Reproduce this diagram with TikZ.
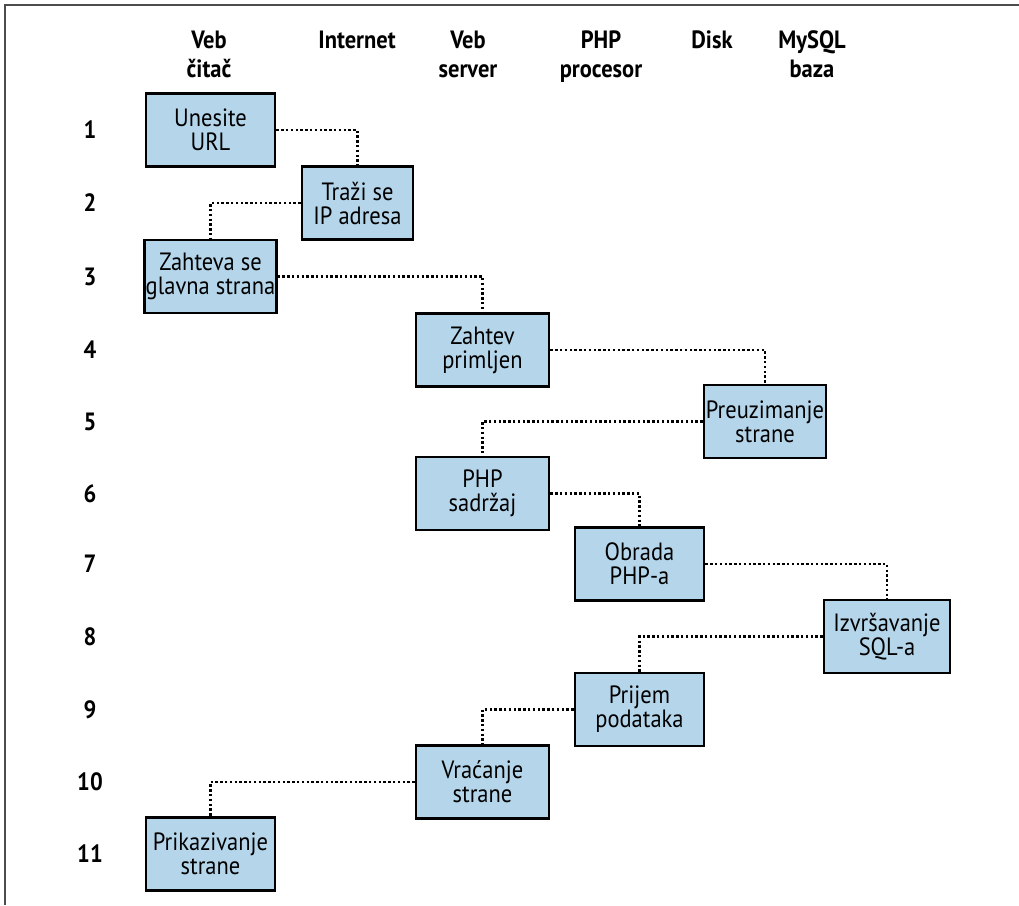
\documentclass[tikz,border=0pt]{standalone}
\usepackage{fontspec}
\setmainfont[FakeStretch=0.9]{PT Sans}
\usepackage{tikz}
\usetikzlibrary{arrows}
\definecolor{boxblue}{RGB}{180,213,234}

\begin{document}
\begin{tikzpicture}[x=1pt,y=-1pt]
    \tikzset{box/.style = {shape=rectangle, draw, line width=2.8pt, fill=boxblue, minimum width=129pt, minimum height=73pt, inner sep=1pt, align=center, font=\fontsize{25}{24}\selectfont}}
    \tikzset{head/.style = {align=center, anchor=base, inner sep=0pt, font=\fontsize{25}{29}\selectfont\bfseries}}
    \tikzset{num/.style = {font=\fontsize{25}{24}\selectfont\bfseries}}
    \tikzset{link/.style = {draw, line width=2.6pt, dash pattern=on 2.4pt off 2.4pt}}

    \useasboundingbox (0,0) rectangle (1019,905);
    \draw[line width=1.5pt, black!70] (1019,5) -- (5,5) -- (5,905);

    % column heads
    \node[head] (hbrowser) at (209,77) {Veb\\čitač};
    \node[head] (hnet)     at (357,48) {Internet};
    \node[head] (hserver)  at (468,77) {Veb\\server};
    \node[head] (hphp)     at (601,77) {PHP\\procesor};
    \node[head] (hdisk)    at (712,48) {Disk};
    \node[head] (hsql)     at (812,77) {MySQL\\baza};

    % steps
    \node[box] (s1)  at (210.5,130)   {Unesite\\URL};
    \node[box, minimum width=111pt] (s2)  at (357.5,203) {Traži se\\IP adresa};
    \node[box] (s3)  at (210.5,276.5) {Zahteva se\\glavna strana};
    \node[box, minimum width=133pt] (s4)  at (482.5,350) {Zahtev\\primljen};
    \node[box, minimum width=122pt] (s5)  at (765,421.5) {Preuzimanje\\strane};
    \node[box, minimum width=133pt] (s6)  at (482.5,493.5) {PHP\\sadržaj};
    \node[box] (s7)  at (639.5,564)   {Obrada\\PHP-a};
    \node[box, minimum width=126pt] (s8)  at (887,636.5) {Izvršavanje\\SQL-a};
    \node[box] (s9)  at (639.5,709.5) {Prijem\\podataka};
    \node[box, minimum width=133pt] (s10) at (482.5,782) {Vraćanje\\strane};
    \node[box] (s11) at (210.5,854)   {Prikazivanje\\strane};

    % step numbers
    \foreach \i in {1,...,11}
        \node[num] (n\i) at (90,0 |- s\i) {\i};

    % links
    \draw[link] (s1.east)  -| (s2.north);
    \draw[link] (s2.west)  -| (s3.north);
    \draw[link] (s3.east)  -| (s4.north);
    \draw[link] (s4.east)  -| (s5.north);
    \draw[link] (s5.west)  -| (s6.north);
    \draw[link] (s6.east)  -| (s7.north);
    \draw[link] (s7.east)  -| (s8.north);
    \draw[link] (s8.west)  -| (s9.north);
    \draw[link] (s9.west)  -| (s10.north);
    \draw[link] (s10.west) -| (s11.north);
\end{tikzpicture}
\end{document}
